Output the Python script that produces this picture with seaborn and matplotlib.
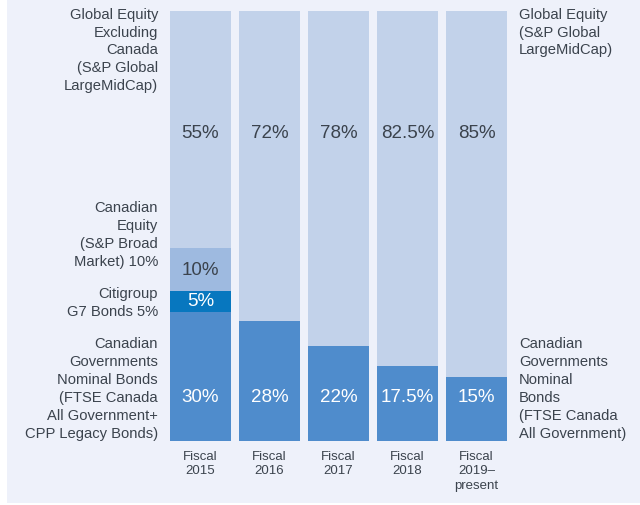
import matplotlib
matplotlib.use("Agg")
import matplotlib.pyplot as plt
import seaborn as sns
import numpy as np
from matplotlib.patches import Rectangle

# Policy portfolio weights (%) per fiscal period
years = ["Fiscal\n2015", "Fiscal\n2016", "Fiscal\n2017", "Fiscal\n2018", "Fiscal\n2019\u2013\npresent"]
bonds = [30, 28, 22, 17.5, 15]
citi_g7 = [5, 0, 0, 0, 0]
cdn_equity = [10, 0, 0, 0, 0]
global_equity = [55, 72, 78, 82.5, 85]
global_labels = ["55%", "72%", "78%", "82.5%", "85%"]
bond_labels = ["30%", "28%", "22%", "17.5%", "15%"]

PANEL = "#eef1fa"
C_GLOBAL = "#c2d2ea"
C_CDNEQ = "#9ebae0"
C_CITI = "#0777bf"
C_BONDS = "#4f8ccc"
TXT = "#3b434d"

sns.set_theme(style="white")
plt.rcParams["font.family"] = ["Liberation Sans", "DejaVu Sans"]

fig = plt.figure(figsize=(6.4, 5.05), dpi=100, facecolor="white")
fig.patches.append(Rectangle((7 / 640, 0.004), 633 / 640, 0.996, transform=fig.transFigure,
                             facecolor=PANEL, edgecolor="none", zorder=-10))
ax = fig.add_axes([166 / 640, 64 / 505, 345 / 640, 430 / 505])
ax.set_facecolor("none")

# stacked layers drawn from the top down as cumulative totals
b = np.array(bonds, dtype=float)
c = np.array(citi_g7, dtype=float)
e = np.array(cdn_equity, dtype=float)
g = np.array(global_equity, dtype=float)
layers = [(b + c + e + g, C_GLOBAL), (b + c + e, C_CDNEQ), (b + c, C_CITI), (b, C_BONDS)]
for vals, col in layers:
    sns.barplot(x=years, y=vals, color=col, width=0.884, saturation=1, ax=ax,
                edgecolor="none", linewidth=0)

ax.set_xlim(-0.5, 4.5)
ax.set_ylim(0, 100)
ax.set_yticks([])
ax.set_xlabel("")
ax.set_ylabel("")
for s in ax.spines.values():
    s.set_visible(False)
ax.tick_params(axis="x", length=0, pad=7, labelsize=9.5, colors=TXT)
for t in ax.get_xticklabels():
    t.set_linespacing(1.3)

# segment value labels
pct = dict(ha="center", va="center", fontsize=13.5)
for i in range(len(years)):
    ax.text(i, 71.6, global_labels[i], color=TXT, **pct)
    ax.text(i, 10.2, bond_labels[i], color="white", **pct)
ax.text(0, 39.6, "10%", color=TXT, **pct)
ax.text(0, 32.4, "5%", color="white", **pct)

# series descriptions
lx, rx = -0.616, 4.616
kw = dict(fontsize=10.6, color=TXT, linespacing=1.36)
ax.text(lx, 100.8, "Global Equity\nExcluding\nCanada\n(S&P Global\nLargeMidCap)", ha="right", va="top", **kw)
ax.text(lx, 47.9, "Canadian\nEquity\n(S&P Broad\nMarket) 10%", ha="right", va="center", **kw)
ax.text(lx, 32.2, "Citigroup\nG7 Bonds 5%", ha="right", va="center", **kw)
ax.text(lx, 12.1, "Canadian\nGovernments\nNominal Bonds\n(FTSE Canada\nAll Government+\nCPP Legacy Bonds)",
        ha="right", va="center", **kw)
ax.text(rx, 100.8, "Global Equity\n(S&P Global\nLargeMidCap)", ha="left", va="top", **kw)
ax.text(rx, 12.0, "Canadian\nGovernments\nNominal\nBonds\n(FTSE Canada\nAll Government)",
        ha="left", va="center", **kw)

fig.savefig("out.png", dpi=100, facecolor="white")
